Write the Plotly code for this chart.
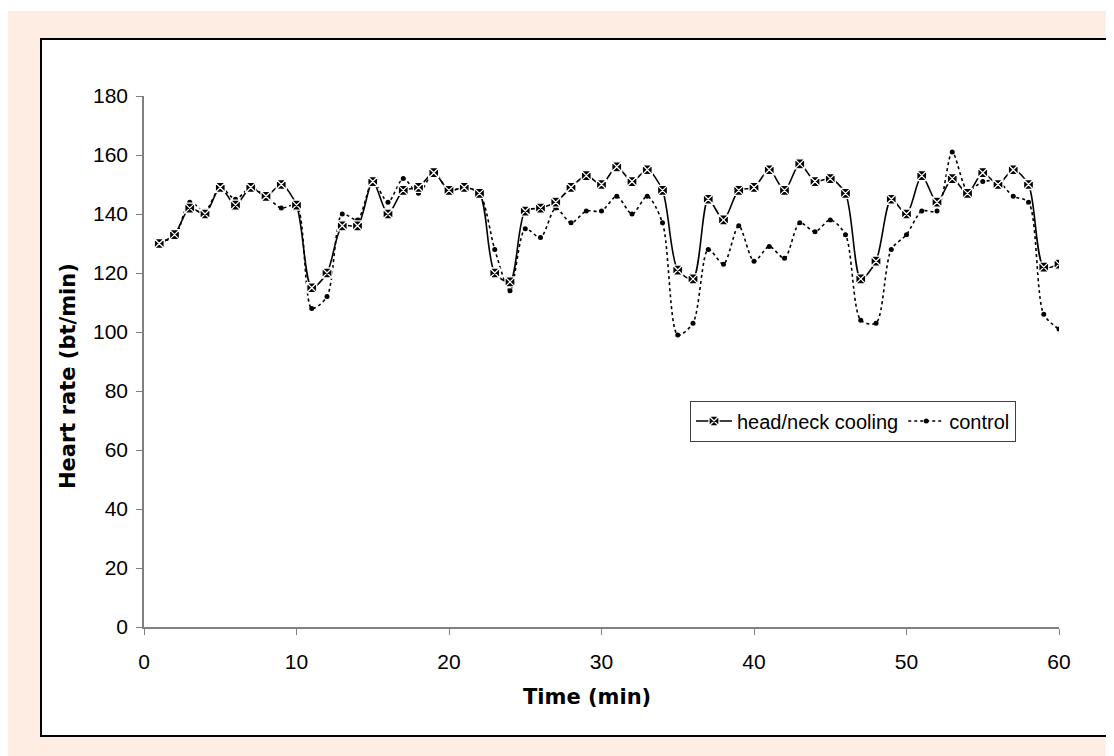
import plotly.graph_objects as go

time_min = list(range(1, 61))
head_neck_cooling = [130, 133, 142, 140, 149, 143, 149, 146, 150, 143,
                     115, 120, 136, 136, 151, 140, 148, 149, 154, 148,
                     149, 147, 120, 117, 141, 142, 144, 149, 153, 150,
                     156, 151, 155, 148, 121, 118, 145, 138, 148, 149,
                     155, 148, 157, 151, 152, 147, 118, 124, 145, 140,
                     153, 144, 152, 147, 154, 150, 155, 150, 122, 123]
control = [131, 132, 144, 141, 149, 145, 149, 146, 142, 143,
           108, 112, 140, 138, 151, 144, 152, 147, 154, 148,
           149, 147, 128, 114, 135, 132, 142, 137, 141, 141,
           146, 140, 146, 137, 99, 103, 128, 123, 136, 124,
           129, 125, 137, 134, 138, 133, 104, 103, 128, 133,
           141, 141, 161, 148, 151, 151, 146, 144, 106, 101]
x_ticks = [0, 10, 20, 30, 40, 50, 60]
y_ticks = [0, 20, 40, 60, 80, 100, 120, 140, 160, 180]
x_title = "Time (min)"
y_title = "Heart rate (bt/min)"

W, H = 1114, 756
# page body margin offsets the figure by 8px; coordinates below are figure pixels
ML, MR, MT, MB = 136, 63, 88, 137
PW, PH = W - ML - MR, H - MT - MB


def px_x(p):
    return (p - ML) / PW


def px_y(p):
    return (H - MB - p) / PH


FONT = "Liberation Sans, Arial, sans-serif"
TITLE_FONT = dict(family="DejaVu Sans, Liberation Sans, sans-serif", size=21, color="black")

fig = go.Figure()
fig.add_trace(go.Scatter(
    x=time_min, y=control, name="control", mode="lines+markers",
    line=dict(color="black", width=1.6, dash="3px,3px", shape="spline", smoothing=0.8),
    marker=dict(symbol="circle", size=5, color="black"),
))
fig.add_trace(go.Scatter(
    x=time_min, y=head_neck_cooling, name="head/neck cooling", mode="lines+markers",
    line=dict(color="black", width=1.6, shape="spline", smoothing=0.8),
    marker=dict(symbol="square-x", size=10, color="black", line=dict(color="white", width=1.3)),
))

shapes = [
    dict(type="rect", xref="paper", yref="paper", layer="below",
         x0=px_x(0), x1=px_x(W), y0=px_y(0), y1=px_y(3),
         fillcolor="white", line=dict(width=0)),
    dict(type="rect", xref="paper", yref="paper", layer="below",
         x0=px_x(33), x1=px_x(1101), y0=px_y(31), y1=px_y(728),
         fillcolor="white", line=dict(color="black", width=2)),
]

annotations = [
    dict(text="<b>%s</b>" % x_title, xref="paper", yref="paper",
         x=px_x(579), y=px_y(689), xanchor="center", yanchor="middle",
         showarrow=False, font=TITLE_FONT),
    dict(text="<b>%s</b>" % y_title, xref="paper", yref="paper",
         x=px_x(60), y=px_y(368), xanchor="center", yanchor="middle",
         textangle=-90, showarrow=False, font=TITLE_FONT),
]

fig.update_layout(
    width=W, height=H,
    margin=dict(l=ML, r=MR, t=MT, b=MB),
    paper_bgcolor="#FDEDE3",
    plot_bgcolor="white",
    font=dict(family=FONT, size=21, color="black"),
    shapes=shapes,
    annotations=annotations,
    legend=dict(
        x=px_x(682), y=px_y(413), xanchor="left", yanchor="middle",
        orientation="h", traceorder="reversed",
        bgcolor="white", bordercolor="#404040", borderwidth=1,
        font=dict(family=FONT, size=20, color="black"),
        itemwidth=36,
    ),
    showlegend=True,
)
fig.update_xaxes(
    range=[0, 60], tickvals=x_ticks, showgrid=False, zeroline=False,
    showline=True, linecolor="#808080", linewidth=1.5,
    ticks="outside", ticklen=6, tickcolor="#808080", tickwidth=1,
    ticklabelstandoff=9,
)
fig.update_yaxes(
    range=[0, 180], tickvals=y_ticks, showgrid=False, zeroline=False,
    showline=True, linecolor="#808080", linewidth=1.5,
    ticks="outside", ticklen=6, tickcolor="#808080", tickwidth=1,
    ticklabelstandoff=4,
)

fig.write_html("out.html")
